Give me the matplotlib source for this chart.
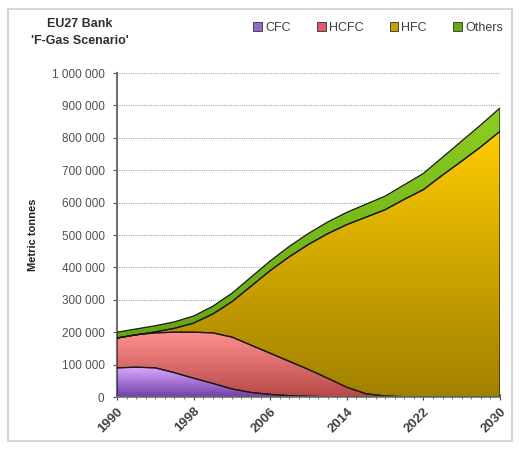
import numpy as np
import matplotlib.pyplot as plt
from matplotlib.colors import LinearSegmentedColormap
from matplotlib.patches import Patch, Rectangle
from matplotlib.ticker import FuncFormatter, MultipleLocator

plt.rcParams['font.family'] = ['Liberation Sans', 'DejaVu Sans']

# --- data (metric tonnes) ---
years = [1990, 1992, 1994, 1996, 1998, 2000, 2002, 2004, 2006, 2008, 2010,
         2012, 2014, 2016, 2018, 2020, 2022, 2024, 2026, 2028, 2030]
cfc = [90000, 92000, 90000, 75000, 58000, 42000, 25000, 14000, 8000, 4000, 2000,
       1000, 0, 0, 0, 0, 0, 0, 0, 0, 0]
hcfc = [92000, 100000, 108000, 125000, 142000, 156000, 160000, 146000, 127000,
        106000, 83000, 57000, 30000, 10000, 3000, 1000, 0, 0, 0, 0, 0]
hfc = [0, 0, 3000, 12000, 28000, 58000, 109000, 182000, 255000, 323000, 386000,
       446000, 502000, 545000, 575000, 609000, 640000, 685000, 728000, 772000, 820000]
others = [18000, 18000, 19000, 20000, 22000, 24000, 26000, 28000, 30000, 32000,
          34000, 36000, 38000, 40000, 42000, 45000, 50000, 55000, 62000, 68000, 72000]

series_names = ['CFC', 'HCFC', 'HFC', 'Others']
year_ticks = [1990, 1998, 2006, 2014, 2022, 2030]

# gradient colours: (top, bottom)
grads = {
    'CFC': ('#d8a8ff', '#7040a8'),
    'HCFC': ('#ff9090', '#b84848'),
    'HFC': ('#ffcc00', '#a08000'),
    'Others': ('#8ccf22', '#5c9a10'),
}
legend_colors = {'CFC': '#9966cc', 'HCFC': '#e05a6a', 'HFC': '#c8a000', 'Others': '#66aa11'}

fig = plt.figure(figsize=(5.19, 4.49), dpi=100)
fig.patches.append(Rectangle((8 / 519, 8 / 449), 504 / 519, 432 / 449,
                             transform=fig.transFigure, fill=False,
                             edgecolor='#cfcfcf', linewidth=1.2))

ax = fig.add_axes([117 / 519, 1 - 397 / 449, 383 / 519, 324 / 449])

x = np.array(years)
layers = [np.array(cfc), np.array(hcfc), np.array(hfc), np.array(others)]
lower = np.zeros(len(years))
for name, vals in zip(series_names, layers):
    upper = lower + vals
    poly = ax.fill_between(x, lower, upper, facecolor='none',
                           edgecolor='#1a1a1a', linewidth=0.9, zorder=4)
    cmap = LinearSegmentedColormap.from_list(name, [grads[name][1], grads[name][0]])
    grad = np.linspace(1, 0, 256).reshape(-1, 1)
    im = ax.imshow(grad, cmap=cmap, extent=[1990, 2030, 0, upper.max()],
                   aspect='auto', origin='upper', zorder=3)
    im.set_clip_path(poly.get_paths()[0], transform=ax.transData)
    lower = upper

ax.set_xlim(1990, 2030)
ax.set_ylim(0, 1000000)
ax.set_aspect('auto')

ax.yaxis.set_major_locator(MultipleLocator(100000))
ax.yaxis.set_major_formatter(FuncFormatter(lambda v, p: f"{int(v):,}".replace(',', ' ')))
ax.set_xticks(year_ticks)
ax.xaxis.set_minor_locator(MultipleLocator(1))
ax.grid(axis='y', linestyle=(0, (1, 1)), color='#a8a8a8', linewidth=0.8, zorder=1)
ax.set_axisbelow(True)

for s in ['top', 'right']:
    ax.spines[s].set_visible(False)
ax.spines['left'].set_color('#707070')
ax.spines['left'].set_linewidth(1.5)
ax.spines['bottom'].set_color('#707070')
ax.spines['bottom'].set_linewidth(1.2)
ax.spines['bottom'].set_zorder(5)

ax.tick_params(axis='y', labelsize=8.5, colors='#505050', length=3, pad=6)
ax.tick_params(axis='x', which='major', labelsize=9.5, colors='#404040',
               length=4, direction='inout', pad=4)
ax.tick_params(axis='x', which='minor', length=3, direction='inout', color='#606060')
for lbl in ax.get_xticklabels():
    lbl.set_rotation(45)
    lbl.set_ha('right')
    lbl.set_rotation_mode('anchor')
    lbl.set_fontweight('bold')

ax.set_ylabel('Metric tonnes', fontsize=8, fontweight='bold', color='#202020', labelpad=10)

fig.text(80 / 519, 1 - 24 / 449, 'EU27 Bank', ha='center', va='center',
         fontsize=9, fontweight='bold', color='#303030')
fig.text(80 / 519, 1 - 41 / 449, "'F-Gas Scenario'", ha='center', va='center',
         fontsize=9, fontweight='bold', color='#303030')

handles = [Patch(facecolor=legend_colors[n], edgecolor='#303030', linewidth=0.6)
           for n in series_names]
fig.legend(handles, series_names, loc='center', bbox_to_anchor=(378 / 519, 1 - 28 / 449),
           ncol=4, frameon=False, fontsize=9, handlelength=0.7, handleheight=0.7,
           handletextpad=0.25, columnspacing=2.1, labelcolor='#404040')

fig.savefig('out.png', dpi=100)
